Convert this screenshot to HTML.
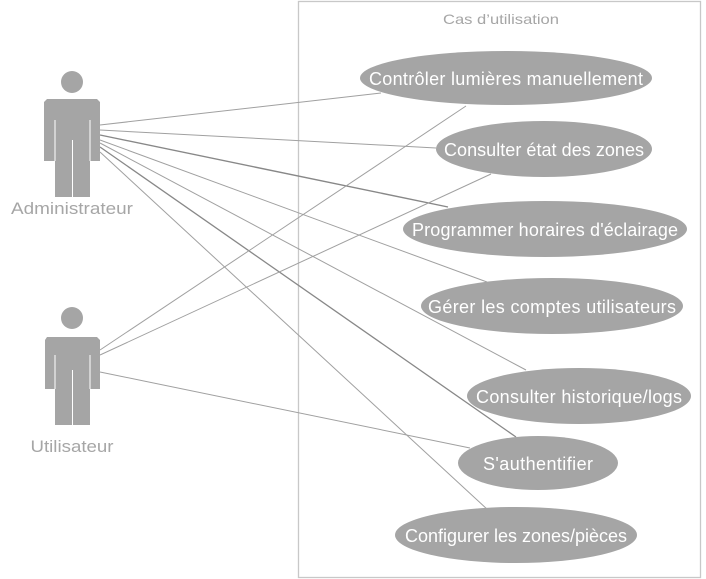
<!DOCTYPE html>
<html><head><meta charset="utf-8"><style>html,body{margin:0;padding:0;background:#fff}svg{display:block}</style></head>
<body>
<svg width="706" height="579" viewBox="0 0 706 579" xmlns="http://www.w3.org/2000/svg" font-family="Liberation Sans, sans-serif">
<rect x="298.5" y="1.5" width="402" height="576" fill="none" stroke="#c8c8c8" stroke-width="1.3"/>
<text x="501" y="24" font-size="14" fill="#a6a6a6" text-anchor="middle" textLength="116" lengthAdjust="spacingAndGlyphs">Cas d’utilisation</text>
<g stroke="#a0a0a0" stroke-width="1" fill="none">
<line x1="100" y1="125" x2="381" y2="93"/>
<line x1="100" y1="130" x2="436" y2="148"/>
<line x1="100" y1="135" x2="448" y2="207" stroke="#888" stroke-width="1.4"/>
<line x1="100" y1="140" x2="487" y2="282"/>
<line x1="100" y1="143" x2="526" y2="370"/>
<line x1="100" y1="147" x2="516" y2="437" stroke="#888" stroke-width="1.3"/>
<line x1="100" y1="152" x2="488" y2="510"/>
<line x1="100" y1="350" x2="466" y2="106"/>
<line x1="100" y1="355" x2="491" y2="174"/>
<line x1="100" y1="372" x2="470" y2="448"/>
</g>
<g fill="#a5a5a5">
<circle cx="72" cy="82" r="11"/>
<path d="M47 99 H97 L100 102 V161 H90 V197 H55 V161 H44 V102 Z"/>
<circle cx="72" cy="318" r="11"/>
<path d="M47 337 H97 L100 340 V389 H90 V425 H55 V389 H45 V340 Z"/>
</g>
<g stroke="#fff" stroke-width="1"><line x1="55" y1="120" x2="55" y2="161"/><line x1="90" y1="120" x2="90" y2="161"/><line x1="72.5" y1="140" x2="72.5" y2="197"/>
<line x1="55" y1="355" x2="55" y2="389"/><line x1="90" y1="355" x2="90" y2="389"/><line x1="72.5" y1="370" x2="72.5" y2="425"/></g>
<text x="72" y="214" font-size="17" fill="#a6a6a6" text-anchor="middle" textLength="122" lengthAdjust="spacingAndGlyphs">Administrateur</text>
<text x="72" y="452" font-size="17" fill="#a6a6a6" text-anchor="middle" textLength="83" lengthAdjust="spacingAndGlyphs">Utilisateur</text>
<g fill="#a5a5a5">
<ellipse cx="506" cy="78" rx="146" ry="27"/>
<ellipse cx="544" cy="149" rx="108" ry="28"/>
<ellipse cx="545" cy="229" rx="142" ry="28"/>
<ellipse cx="552" cy="306" rx="131" ry="28"/>
<ellipse cx="579" cy="396" rx="112" ry="28"/>
<ellipse cx="538" cy="463" rx="80" ry="27"/>
<ellipse cx="516" cy="535" rx="121" ry="28"/>
</g>
<g fill="#fff" font-size="18" text-anchor="middle" lengthAdjust="spacingAndGlyphs">
<text x="506" y="85" textLength="274">Contrôler lumières manuellement</text>
<text x="544" y="156" textLength="200">Consulter état des zones</text>
<text x="545" y="236" textLength="266">Programmer horaires d'éclairage</text>
<text x="552" y="313" textLength="248">Gérer les comptes utilisateurs</text>
<text x="579" y="403" textLength="206">Consulter historique/logs</text>
<text x="538" y="470" textLength="110">S'authentifier</text>
<text x="516" y="542" textLength="222">Configurer les zones/pièces</text>
</g>
</svg>
</body></html>
